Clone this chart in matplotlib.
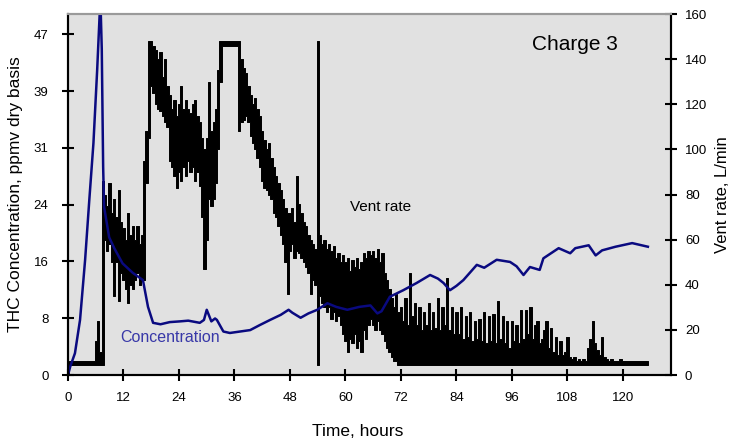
import matplotlib
matplotlib.use('Agg')
import matplotlib.pyplot as plt
import numpy as np

plt.rcParams['font.family'] = ['Liberation Sans', 'DejaVu Sans']

# THC concentration, ppmv (left axis)
conc_t = [0, 0.5, 1.5, 2.6, 3.7, 4.6, 5.5, 6.3, 7.0, 7.3, 7.6, 7.8, 8.9, 10, 11.8, 14,
          16.2, 17.3, 18.4, 20, 22, 24.2, 26, 28.5, 29.4, 30, 30.5, 31, 31.8, 32.2, 33.6,
          35, 37.2, 39.4, 41.5, 43.7, 46, 47.7, 48.5, 50.3, 52, 53.9, 56.1, 58, 60.4, 63,
          65.4, 66.9, 67.8, 69.6, 72.5, 75.4, 78.3, 80, 81.2, 82.6, 84, 85.5, 88.4, 90,
          92.7, 95.6, 97, 98.5, 99.9, 102, 102.8, 106.1, 108.6, 109.7, 112.6, 114.1,
          115.5, 118.4, 122, 125.4]
conc_v = [0, 1.2, 3.0, 7.6, 15.9, 24.1, 32, 42, 52, 45, 28.7, 23.2, 19.0, 17.5, 15.4, 14.1,
          13.1, 9.4, 7.2, 7.0, 7.3, 7.4, 7.5, 7.2, 7.6, 9.0, 8.2, 7.4, 7.8, 7.6, 6.0,
          5.8, 6.0, 6.2, 6.9, 7.6, 8.3, 9.0, 8.6, 7.9, 8.5, 9.0, 9.9, 9.4, 9.0, 9.4,
          9.6, 8.5, 8.8, 10.8, 11.7, 12.7, 13.8, 13.3, 12.7, 11.7, 12.3, 13.1, 15.2, 14.8,
          15.9, 15.6, 15.0, 13.8, 14.9, 14.5, 16.1, 17.5, 16.8, 17.5, 17.9, 16.5,
          17.2, 17.7, 18.2, 17.7]

# Vent rate, L/min (right axis): high and low reading in each half hour, 0 - 125.5 h
vent_hi = [
    3, 6, 6, 6, 6, 6, 6, 6, 6, 6, 6, 6,
    15, 24, 10, 86, 80, 75, 85, 72, 78, 70, 82, 68,
    65, 60, 72, 62, 66, 60, 66, 58, 62, 95, 108, 148,
    148, 146, 144, 140, 143, 132, 140, 128, 124, 118, 122, 115,
    120, 128, 118, 122, 118, 116, 120, 122, 115, 112, 105, 100,
    105, 130, 108, 112, 118, 135, 148, 148, 148, 148, 148, 148,
    148, 148, 148, 140, 136, 134, 128, 124, 120, 123, 118, 115,
    108, 104, 100, 103, 96, 92, 88, 85, 82, 78, 74, 72,
    72, 74, 68, 88, 76, 72, 68, 66, 62, 60, 58, 56,
    148, 62, 58, 60, 56, 58, 55, 57, 52, 54, 50, 53,
    50, 52, 46, 51, 48, 52, 47, 50, 54, 52, 55, 53,
    55, 52, 56, 50, 54, 45, 42, 38, 34, 30, 36, 28,
    30, 24, 34, 22, 45, 26, 32, 22, 30, 20, 28, 22,
    32, 20, 28, 21, 34, 20, 30, 22, 43, 20, 30, 18,
    28, 18, 30, 16, 26, 17, 28, 15, 24, 16, 25, 15,
    28, 14, 26, 15, 27, 14, 33, 16, 26, 14, 24, 12,
    24, 15, 22, 14, 29, 16, 29, 18, 30, 16, 22, 24,
    14, 16, 20, 24, 12, 21, 10, 17, 9, 15, 9, 10,
    17, 8, 7, 8, 6, 7, 6, 7, 6, 12, 16, 24,
    14, 11, 9, 17, 8, 7, 6, 7, 6, 6, 6, 7,
    6, 6, 6, 6, 6, 6, 6, 6, 6, 6, 6, 6,
]
vent_lo = [
    0, 4.5, 4.5, 4.5, 4.5, 4.5, 4.5, 4.5, 4.5, 4.5, 4.5, 4.5,
    4.5, 4.5, 4.5, 4.5, 60, 55, 58, 50, 35, 50, 33, 45,
    42, 38, 32, 40, 38, 42, 45, 40, 42, 42, 85, 105,
    128, 125, 120, 118, 117, 115, 112, 110, 95, 92, 88, 83,
    90, 86, 92, 88, 95, 90, 92, 86, 90, 84, 70, 47,
    60, 78, 75, 78, 85, 100, 130, 146, 146, 146, 146, 146,
    146, 146, 108, 112, 113, 115, 112, 106, 103, 100, 96, 92,
    86, 83, 82, 80, 78, 72, 70, 66, 62, 58, 50, 36,
    55, 58, 52, 55, 54, 52, 50, 48, 45, 36, 42, 40,
    4.5, 35, 32, 30, 28, 30, 25, 28, 24, 26, 22, 18,
    15, 10, 16, 14, 18, 12, 15, 10, 20, 16, 22, 25,
    22, 20, 24, 20, 18, 15, 12, 10, 8, 6, 6, 4.5,
    4.5, 4.5, 4.5, 4.5, 4.5, 4.5, 4.5, 4.5, 4.5, 4.5, 4.5, 4.5,
    4.5, 4.5, 4.5, 4.5, 4.5, 4.5, 4.5, 4.5, 4.5, 4.5, 4.5, 4.5,
    4.5, 4.5, 4.5, 4.5, 4.5, 4.5, 4.5, 4.5, 4.5, 4.5, 4.5, 4.5,
    4.5, 4.5, 4.5, 4.5, 4.5, 4.5, 4.5, 4.5, 4.5, 4.5, 4.5, 4.5,
    4.5, 4.5, 4.5, 4.5, 4.5, 4.5, 4.5, 4.5, 4.5, 4.5, 4.5, 4.5,
    4.5, 4.5, 4.5, 4.5, 4.5, 4.5, 4.5, 4.5, 4.5, 4.5, 4.5, 4.5,
    4.5, 4.5, 4.5, 4.5, 4.5, 4.5, 4.5, 4.5, 4.5, 4.5, 4.5, 4.5,
    4.5, 4.5, 4.5, 4.5, 4.5, 4.5, 4.5, 4.5, 4.5, 4.5, 4.5, 4.5,
    4.5, 4.5, 4.5, 4.5, 4.5, 4.5, 4.5, 4.5, 4.5, 4.5, 4.5, 4.5,
]
vent_t = np.arange(len(vent_hi)) * 0.5

x_ticks = [0, 12, 24, 36, 48, 60, 72, 84, 96, 108, 120]
left_labels = ['0', '8', '16', '24', '31', '39', '47']
right_ticks = [0, 20, 40, 60, 80, 100, 120, 140, 160]

fig = plt.figure(figsize=(7.36, 4.4), dpi=100)
fig.subplots_adjust(left=0.0924, right=0.9117, top=0.968, bottom=0.1477)
ax = fig.add_subplot(111)
ax2 = ax.twinx()

# концентрация поверх вентиляции
ax.set_zorder(ax2.get_zorder() + 1)
ax.patch.set_visible(False)
ax2.patch.set_visible(True)
ax2.patch.set_facecolor('#e1e1e1')

ax2.fill_between(vent_t, vent_lo, vent_hi, step='mid', color='black',
                 edgecolor='black', linewidth=0.7)
ax.plot(conc_t, conc_v, color='#0a0a80', lw=1.8)

ax.set_xlim(0, 130.4)
ax.set_ylim(0, 49.8)
ax2.set_ylim(0, 160)
ax.set_xticks(x_ticks)
ax.set_yticks(np.linspace(0, 47, 7))
ax.set_yticklabels(left_labels)
ax2.set_yticks(right_ticks)

for a in (ax, ax2):
    for s in ('left', 'right', 'bottom'):
        a.spines[s].set_color('black')
        a.spines[s].set_linewidth(1.5)
    a.spines['top'].set_color('#9a9a9a')
    a.spines['top'].set_linewidth(1.5)
    a.tick_params(direction='inout', length=8, width=1.5, labelsize=9.5)
ax.tick_params(axis='y', pad=10)
ax.tick_params(axis='x', pad=8)
ax2.tick_params(axis='y', pad=6)

ax.set_ylabel('THC Concentration, ppmv dry basis', fontsize=12.5, labelpad=8)
ax2.set_ylabel('Vent rate, L/min', fontsize=12, labelpad=6)
ax.set_xlabel('Time, hours', fontsize=12.5, labelpad=8)
ax.xaxis.set_label_coords(0.48, -0.135)

ax2.text(100.3, 146.4, 'Charge 3', fontsize=15, va='center', ha='left')
ax2.text(61, 74.5, 'Vent rate', fontsize=11, va='center', ha='left')
ax.text(11.2, 5.2, 'Concentration', fontsize=11.5, color='#3838a8', va='center', ha='left')

fig.savefig('out.png', dpi=100)
